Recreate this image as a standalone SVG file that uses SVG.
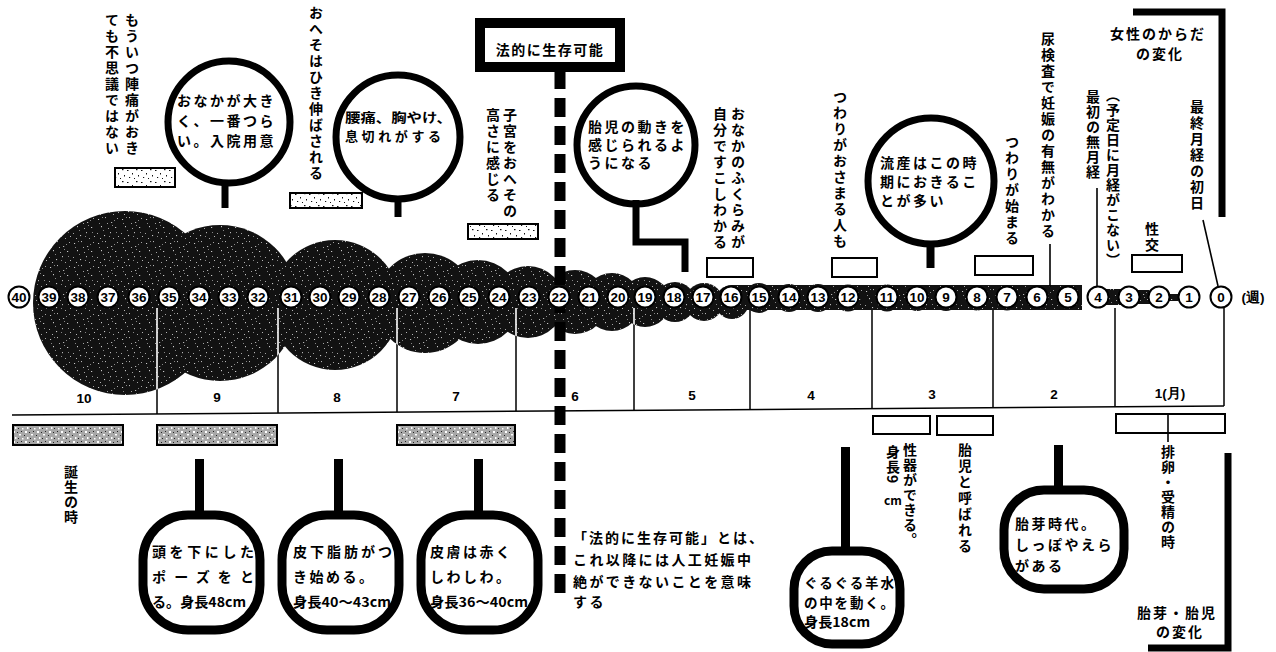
<svg xmlns="http://www.w3.org/2000/svg" width="1276" height="652" viewBox="0 0 1276 652">
<style>
.t{font-family:"Noto Sans CJK JP","Noto Sans CJK SC",sans-serif;font-weight:700;fill:#000}
.v{writing-mode:vertical-rl;font-size:14px;letter-spacing:2px}
.v1{writing-mode:vertical-rl;font-size:14px;letter-spacing:1px}
.b{font-size:14px;letter-spacing:2.5px}
.n{font-family:"Liberation Sans",Arial,sans-serif;font-weight:700;font-size:13.5px;text-anchor:middle;fill:#000}
.wk{fill:#fff;stroke:#000;stroke-width:2}
.ring{fill:#fff;stroke:#000;stroke-width:7}
.sq{fill:#fff;stroke:#000;stroke-width:9}
.stem{fill:#000}
.ld{stroke:#000;stroke-width:1.6;fill:none}
.box{fill:#fff;stroke:#000;stroke-width:2}
.gbox{fill:url(#lt);stroke:#000;stroke-width:2}
.wbox{fill:url(#lw);stroke:#000;stroke-width:2}
.ml{stroke:#000;stroke-width:1.5;fill:none}
</style>
<defs>
<pattern id="dk" width="24" height="24" patternUnits="userSpaceOnUse">
<rect width="24" height="24" fill="#121212"/>
<g fill="#c8c8c8">
<rect x="2" y="3" width="1.1" height="1"/><rect x="9" y="1" width="0.9" height="1.1"/><rect x="15" y="6" width="1.2" height="0.9"/>
<rect x="21" y="2" width="0.9" height="0.9"/><rect x="5" y="10" width="1" height="1.2"/><rect x="12" y="12" width="0.9" height="0.9"/>
<rect x="19" y="11" width="1.2" height="1"/><rect x="1" y="17" width="0.9" height="0.9"/><rect x="8" y="19" width="1.1" height="1.1"/>
<rect x="14" y="16" width="0.9" height="1.2"/><rect x="22" y="20" width="1" height="0.9"/><rect x="17" y="22" width="0.9" height="0.9"/>
<rect x="4" y="22" width="1" height="0.9"/><rect x="11" y="7" width="0.9" height="0.9"/><rect x="18" y="4" width="0.8" height="0.8"/>
<rect x="7" y="14" width="0.8" height="0.8"/><rect x="20" y="16" width="0.8" height="0.8"/><rect x="3" y="7" width="0.8" height="0.8"/>
<rect x="13" y="20" width="0.8" height="0.8"/><rect x="16" y="9" width="0.8" height="0.8"/><rect x="6" y="1" width="0.8" height="0.8"/>
</g>
</pattern>
<pattern id="lt" width="12" height="10" patternUnits="userSpaceOnUse">
<rect width="12" height="10" fill="#a8a8a8"/>
<g fill="#fff"><rect x="1" y="1" width="2" height="2"/><rect x="7" y="4" width="2" height="1.5"/><rect x="3" y="7" width="1.5" height="2"/><rect x="10" y="8" width="1.5" height="1.5"/></g>
<g fill="#222"><rect x="5" y="2" width="1" height="1"/><rect x="9" y="1" width="1" height="1"/><rect x="0" y="5" width="1" height="1"/><rect x="6" y="8" width="1" height="1"/></g>
</pattern>
<pattern id="lw" width="14" height="12" patternUnits="userSpaceOnUse">
<rect width="14" height="12" fill="#fff"/>
<g fill="#111"><rect x="1" y="2" width="1.5" height="1"/><rect x="6" y="5" width="1" height="1.5"/><rect x="10" y="1" width="1.5" height="1.2"/><rect x="3" y="9" width="1.2" height="1"/><rect x="12" y="7" width="1" height="1.5"/><rect x="8" y="10" width="1" height="1"/></g>
</pattern>
<clipPath id="blobclip">
<circle cx="125" cy="303" r="92"/><circle cx="220" cy="303" r="78"/><circle cx="335" cy="305" r="65"/>
<circle cx="425" cy="303" r="50"/><circle cx="478" cy="302" r="42"/><circle cx="528" cy="302" r="36"/>
<circle cx="575" cy="302" r="32"/><circle cx="612" cy="302" r="29"/><circle cx="645" cy="302" r="25"/>
<circle cx="675" cy="302" r="20"/><circle cx="704" cy="302" r="19"/><circle cx="732" cy="302" r="17"/>
</clipPath>
</defs>
<rect width="1276" height="652" fill="#fff"/>

<!-- month scale -->
<g id="month-scale">
<path class="ml" d="M12 415 L1224 406"/>
<path class="ml" d="M157 308 V414 M278 308 V413 M397 308 V412 M516 308 V411 M634 308 V410 M750 308 V410 M872 308 V409 M993 308 V408 M1115 308 V407 M1224 308 V406"/>
<g class="n">
<text x="84" y="403">10</text><text x="217" y="402">9</text><text x="337" y="402">8</text><text x="456" y="401">7</text>
<text x="575" y="401">6</text><text x="692" y="400">5</text><text x="811" y="400">4</text><text x="932" y="399">3</text>
<text x="1054" y="399">2</text><text x="1170" y="398">1(月)</text>
</g>
</g>

<!-- dark blob -->
<g id="blob" fill="url(#dk)">
<circle cx="125" cy="303" r="92"/><circle cx="220" cy="303" r="78"/><circle cx="335" cy="305" r="65"/>
<circle cx="425" cy="303" r="50"/><circle cx="478" cy="302" r="42"/><circle cx="528" cy="302" r="36"/>
<circle cx="575" cy="302" r="32"/><circle cx="612" cy="302" r="29"/><circle cx="645" cy="302" r="25"/>
<circle cx="675" cy="302" r="20"/><circle cx="704" cy="302" r="19"/><circle cx="732" cy="302" r="17"/>
<rect x="732" y="285" width="350" height="25"/>
<circle cx="759" cy="298" r="15"/><circle cx="789" cy="298" r="14"/><circle cx="818" cy="298" r="14"/><circle cx="848" cy="298" r="13.5"/>
<circle cx="887" cy="298" r="13.5"/><circle cx="917" cy="298" r="13"/><circle cx="946" cy="298" r="13"/><circle cx="977" cy="298" r="12.5"/>
<circle cx="1007" cy="298" r="12.5"/><circle cx="1037" cy="298" r="12"/><circle cx="1068" cy="298" r="12"/>
<rect x="1100" y="289" width="26" height="16"/><rect x="1130" y="290" width="26" height="14"/><rect x="1168" y="294" width="10" height="7"/>
</g>
<g clip-path="url(#blobclip)" stroke="#fff" stroke-width="1.6">
<path d="M157 308 V414 M278 308 V413 M397 308 V412 M516 308 V411 M634 308 V410"/>
</g>

<!-- legal viability dashed line -->
<g id="legal-line">
<path d="M560 70 V600" stroke="#000" stroke-width="11" stroke-dasharray="19 9" fill="none"/>
</g>

<!-- week circles -->
<g id="weeks">
<g class="wk">
<circle cx="19" cy="297" r="10.5"/><circle cx="49" cy="297" r="10.5"/><circle cx="78" cy="297" r="10.5"/><circle cx="108" cy="297" r="10.5"/>
<circle cx="139" cy="297" r="10.5"/><circle cx="169" cy="297" r="10.5"/><circle cx="199" cy="297" r="10.5"/><circle cx="229" cy="297" r="10.5"/>
<circle cx="258" cy="297" r="10.5"/><circle cx="291" cy="297" r="10.5"/><circle cx="320" cy="297" r="10.5"/><circle cx="349" cy="297" r="10.5"/>
<circle cx="379" cy="297" r="10.5"/><circle cx="409" cy="297" r="10.5"/><circle cx="439" cy="297" r="10.5"/><circle cx="469" cy="297" r="10.5"/>
<circle cx="499" cy="297" r="10.5"/><circle cx="529" cy="297" r="10.5"/><circle cx="559" cy="297" r="10.5"/><circle cx="589" cy="297" r="10.5"/>
<circle cx="618" cy="297" r="10.5"/><circle cx="645" cy="297" r="10.5"/><circle cx="674" cy="297" r="10.5"/><circle cx="703" cy="297" r="10.5"/>
<circle cx="731" cy="297" r="10.5"/><circle cx="759" cy="297" r="10.5"/><circle cx="789" cy="297" r="10.5"/><circle cx="818" cy="297" r="10.5"/>
<circle cx="848" cy="297" r="10.5"/><circle cx="887" cy="297" r="10.5"/><circle cx="917" cy="297" r="10.5"/><circle cx="946" cy="297" r="10.5"/>
<circle cx="977" cy="297" r="10.5"/><circle cx="1007" cy="297" r="10.5"/><circle cx="1037" cy="297" r="10.5"/><circle cx="1068" cy="297" r="10.5"/>
<circle cx="1098" cy="297" r="10.5"/><circle cx="1129" cy="297" r="10.5"/><circle cx="1159" cy="297" r="10.5"/><circle cx="1189" cy="297" r="10.5"/>
<circle cx="1221" cy="297" r="10.5"/>
</g>
<g class="n">
<text x="19" y="302">40</text><text x="49" y="302">39</text><text x="78" y="302">38</text><text x="108" y="302">37</text>
<text x="139" y="302">36</text><text x="169" y="302">35</text><text x="199" y="302">34</text><text x="229" y="302">33</text>
<text x="258" y="302">32</text><text x="291" y="302">31</text><text x="320" y="302">30</text><text x="349" y="302">29</text>
<text x="379" y="302">28</text><text x="409" y="302">27</text><text x="439" y="302">26</text><text x="469" y="302">25</text>
<text x="499" y="302">24</text><text x="529" y="302">23</text><text x="559" y="302">22</text><text x="589" y="302">21</text>
<text x="618" y="302">20</text><text x="645" y="302">19</text><text x="674" y="302">18</text><text x="703" y="302">17</text>
<text x="731" y="302">16</text><text x="759" y="302">15</text><text x="789" y="302">14</text><text x="818" y="302">13</text>
<text x="848" y="302">12</text><text x="887" y="302">11</text><text x="917" y="302">10</text><text x="946" y="302">9</text>
<text x="977" y="302">8</text><text x="1007" y="302">7</text><text x="1037" y="302">6</text><text x="1068" y="302">5</text>
<text x="1098" y="302">4</text><text x="1129" y="302">3</text><text x="1159" y="302">2</text><text x="1189" y="302">1</text>
<text x="1221" y="302">0</text>
<text x="1253" y="302">(週)</text>
</g>
</g>

<!-- top: woman's body changes -->
<g id="header-woman">
<path d="M1133 12 H1222 V217" stroke="#000" stroke-width="7" fill="none"/>
<text class="t" x="1158" y="39" font-size="14" letter-spacing="2" text-anchor="middle">女性のからだ</text>
<text class="t" x="1160" y="59" font-size="14" letter-spacing="2" text-anchor="middle">の変化</text>
</g>
<g id="n-last-period">
<text class="t v" x="1197" y="100">最終月経の初日</text>
<path class="ld" d="M1203 220 L1218 286"/>
</g>
<g id="n-intercourse">
<text class="t v" x="1152" y="222">性交</text>
<rect class="box" x="1132" y="255" width="50" height="17"/>
</g>
<g id="n-no-period">
<text class="t v1" x="1113" y="88">（予定日に月経がこない）</text>
<text class="t v1" x="1093" y="90">最初の無月経</text>
<path class="ld" d="M1097 188 V286"/>
</g>
<g id="n-urine">
<text class="t v" x="1048" y="32">尿検査で妊娠の有無がわかる</text>
<path class="ld" d="M1050 244 V287"/>
</g>
<g id="n-tsuwari-start">
<text class="t v" x="1012" y="135">つわりが始まる</text>
<rect class="box" x="975" y="256" width="58" height="19"/>
</g>
<g id="n-miscarriage">
<circle class="ring" cx="931" cy="181" r="63"/>
<rect class="stem" x="926.5" y="243" width="8" height="25"/>
<text class="t b" x="880" y="168">流産はこの時</text>
<text class="t b" x="880" y="187">期におきるこ</text>
<text class="t b" x="880" y="206">とが多い</text>
</g>
<g id="n-tsuwari-end">
<text class="t v" x="840" y="90">つわりがおさまる人も</text>
<rect class="box" x="832" y="258" width="45" height="19"/>
</g>
<g id="n-belly-show">
<text class="t v" x="738" y="107">おなかのふくらみが</text>
<text class="t v" x="720" y="107">自分ですこしわかる</text>
<rect class="box" x="707" y="258" width="46" height="19"/>
</g>
<g id="n-fetal-movement">
<circle class="ring" cx="636" cy="145" r="59"/>
<path d="M636 200 V242 H685 V272" stroke="#000" stroke-width="7" fill="none"/>
<text class="t b" x="588" y="132">胎児の動きを</text>
<text class="t b" x="588" y="150">感じられるよ</text>
<text class="t b" x="588" y="168">うになる</text>
</g>
<g id="n-legal">
<rect x="480" y="23" width="140" height="44" fill="#fff" stroke="#000" stroke-width="10"/>
<text class="t" x="550" y="55" font-size="14" letter-spacing="1.5" text-anchor="middle">法的に生存可能</text>
</g>
<g id="n-uterus">
<text class="t v" x="510" y="108">子宮をおへその</text>
<text class="t v" x="493" y="108">高さに感じる</text>
<rect class="wbox" x="468" y="224" width="70" height="15"/>
</g>
<g id="n-backache">
<circle class="ring" cx="398" cy="137" r="62"/>
<rect class="stem" x="394.5" y="196" width="7" height="21"/>
<text class="t" x="345" y="122" font-size="13" textLength="107" lengthAdjust="spacingAndGlyphs">腰痛、胸やけ、</text>
<text class="t" x="345" y="141" font-size="13" textLength="96" lengthAdjust="spacing">息切れがする</text>
</g>
<g id="n-navel">
<text class="t v" x="316" y="6">おへそはひき伸ばされる</text>
<rect class="wbox" x="290" y="193" width="72" height="15"/>
</g>
<g id="n-big-belly">
<circle class="ring" cx="229" cy="122" r="61"/>
<rect class="stem" x="221.5" y="180" width="7" height="28"/>
<text class="t b" x="177" y="106">おなかが大き</text>
<text class="t b" x="177" y="126">く、一番つら</text>
<text class="t b" x="177" y="146">い。入院用意</text>
</g>
<g id="n-labor">
<text class="t v" x="132" y="13">もういつ陣痛がおき</text>
<text class="t v" x="112" y="13">ても不思議ではない</text>
<rect class="wbox" x="115" y="168" width="60" height="19"/>
</g>

<!-- bottom: embryo / fetus changes -->
<g id="header-fetus">
<path d="M1148 648 H1228 V453" stroke="#000" stroke-width="7" fill="none"/>
<text class="t" x="1177" y="618" font-size="14" letter-spacing="2" text-anchor="middle">胎芽・胎児</text>
<text class="t" x="1180" y="637" font-size="14" letter-spacing="2" text-anchor="middle">の変化</text>
</g>
<g id="n-ovulation">
<rect class="box" x="1116" y="414" width="109" height="19"/>
<path class="ld" d="M1168 414 V442"/>
<text class="t v1" x="1168" y="445">排卵・受精の時</text>
</g>
<g id="n-embryo">
<rect class="stem" x="1054" y="445" width="9" height="44"/>
<rect class="sq" x="1004" y="490" width="120" height="99" rx="40"/>
<text class="t b" x="1015" y="529">胎芽時代。</text>
<text class="t b" x="1015" y="550">しっぽやえら</text>
<text class="t b" x="1015" y="571">がある</text>
</g>
<g id="n-called-fetus">
<rect class="box" x="937" y="416" width="56" height="19"/>
<text class="t v" x="965" y="443">胎児と呼ばれる</text>
</g>
<g id="n-genitals">
<rect class="box" x="873" y="416" width="57" height="18"/>
<text class="t v1" x="910" y="443">性器ができる。</text>
<text class="t v1" x="893" y="445">身長9</text>
<text class="t" x="893" y="505" font-size="12" text-anchor="middle">cm</text>
</g>
<g id="n-amniotic">
<rect class="stem" x="841" y="447" width="9" height="102"/>
<rect class="sq" x="794" y="551" width="106" height="93" rx="38"/>
<text class="t" x="804" y="588" font-size="13.5" textLength="90" lengthAdjust="spacing">ぐるぐる羊水</text>
<text class="t" x="804" y="608" font-size="13.5" textLength="90" lengthAdjust="spacing">の中を動く。</text>
<text class="t" x="804" y="627" font-size="13.5" textLength="66" lengthAdjust="spacingAndGlyphs">身長18cm</text>
</g>
<g id="n-legal-note">
<text class="t" x="573" y="543" font-size="14" letter-spacing="2">「法的に生存可能」とは、</text>
<text class="t" x="573" y="565" font-size="14" letter-spacing="2.4">これ以降には人工妊娠中</text>
<text class="t" x="573" y="587" font-size="14" letter-spacing="2.4">絶ができないことを意味</text>
<text class="t" x="573" y="607" font-size="14" letter-spacing="2.4">する</text>
</g>
<g id="n-skin-red">
<rect class="gbox" x="397" y="425" width="118" height="20"/>
<rect class="stem" x="474" y="459" width="9" height="55"/>
<rect class="sq" x="421" y="515" width="117" height="115" rx="45"/>
<text class="t b" x="430" y="557" letter-spacing="2">皮膚は赤く</text>
<text class="t b" x="430" y="582" letter-spacing="2">しわしわ。</text>
<text class="t" x="430" y="607" font-size="13.5" textLength="98" lengthAdjust="spacingAndGlyphs">身長36〜40cm</text>
</g>
<g id="n-fat">
<rect class="stem" x="334" y="459" width="9" height="55"/>
<rect class="sq" x="282" y="515" width="117" height="115" rx="45"/>
<text class="t" x="293" y="557" font-size="14" textLength="99" lengthAdjust="spacing">皮下脂肪がつ</text>
<text class="t b" x="293" y="582" letter-spacing="2">き始める。</text>
<text class="t" x="293" y="607" font-size="13.5" textLength="98" lengthAdjust="spacingAndGlyphs">身長40〜43cm</text>
</g>
<g id="n-head-down">
<rect class="gbox" x="157" y="425" width="120" height="20"/>
<rect class="stem" x="195" y="459" width="9" height="55"/>
<rect class="sq" x="143" y="515" width="117" height="115" rx="45"/>
<text class="t" x="152" y="557" font-size="14" textLength="102" lengthAdjust="spacing">頭を下にした</text>
<text class="t" x="152" y="582" font-size="14" textLength="102" lengthAdjust="spacing">ポーズをと</text>
<text class="t" x="152" y="607" font-size="13.5" textLength="94" lengthAdjust="spacingAndGlyphs">る。身長48cm</text>
</g>
<g id="n-birth">
<rect class="gbox" x="13" y="425" width="110" height="20"/>
<text class="t v1" x="71" y="465">誕生の時</text>
</g>
</svg>
